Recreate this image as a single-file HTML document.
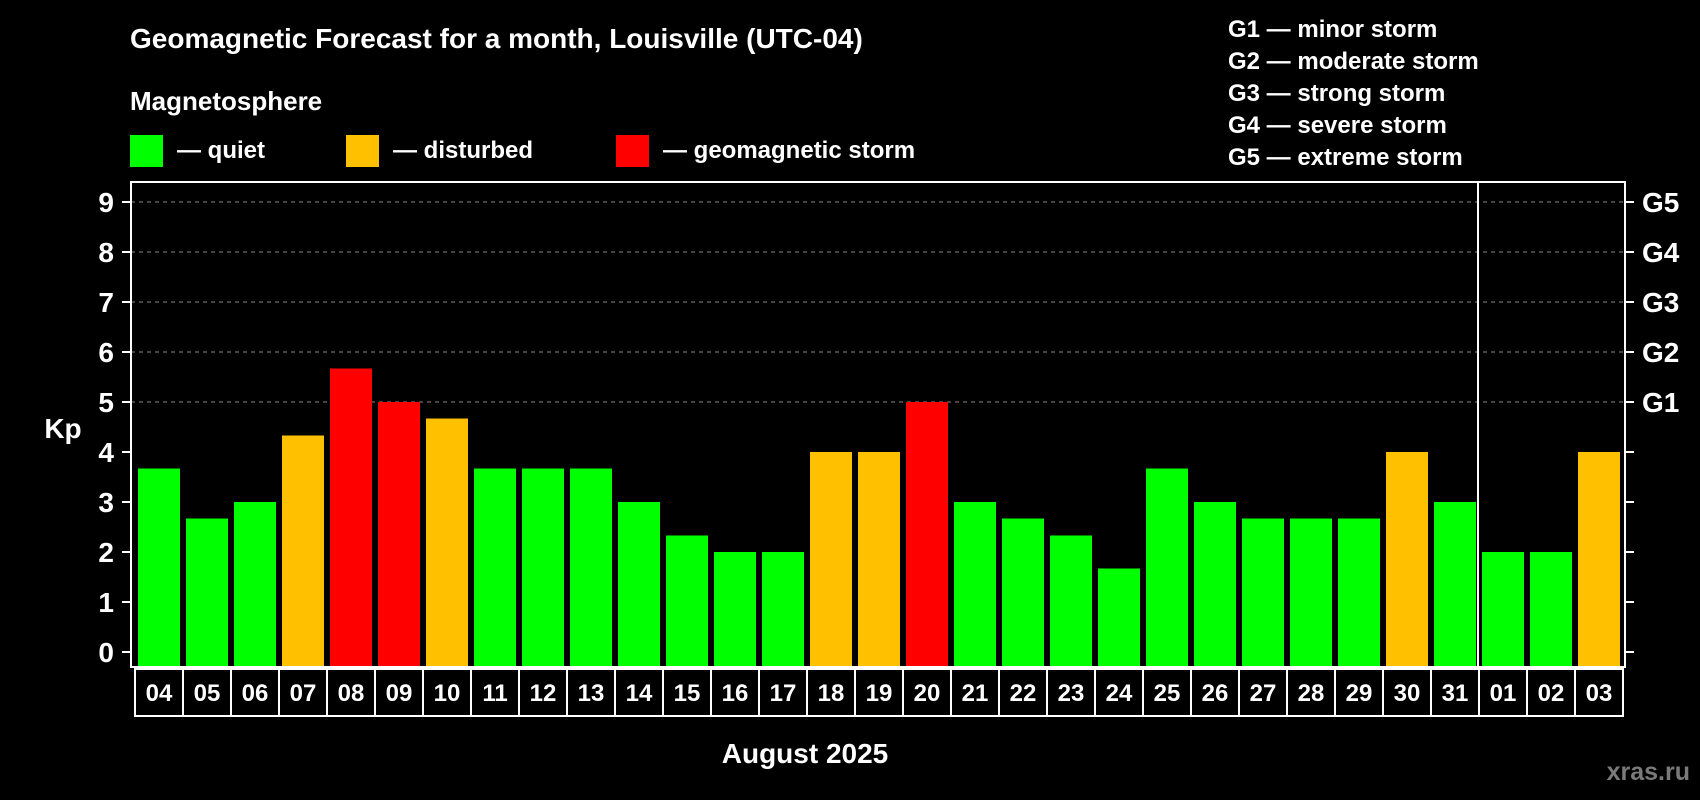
<!DOCTYPE html>
<html><head><meta charset="utf-8"><style>
html,body{margin:0;padding:0;background:#000;}
svg{display:block;font-family:"Liberation Sans",sans-serif;font-weight:bold;}
</style></head><body>
<svg id="chart" width="1700" height="800" viewBox="0 0 1700 800">
<rect width="1700" height="800" fill="#000"/>
<text x="130" y="48" font-size="28" fill="#fff">Geomagnetic Forecast for a month, Louisville (UTC-04)</text>
<text x="130" y="110" font-size="26" fill="#fff">Magnetosphere</text>
<g><rect x="130" y="135" width="33" height="32" fill="#00ff00"/><text x="177" y="158" font-size="24" fill="#fff">— quiet</text></g>
<g><rect x="346" y="135" width="33" height="32" fill="#ffc000"/><text x="393" y="158" font-size="24" fill="#fff">— disturbed</text></g>
<g><rect x="616" y="135" width="33" height="32" fill="#ff0000"/><text x="663" y="158" font-size="24" fill="#fff">— geomagnetic storm</text></g>
<g font-size="24" fill="#fff">
<text x="1228" y="37">G1 — minor storm</text>
<text x="1228" y="69">G2 — moderate storm</text>
<text x="1228" y="101">G3 — strong storm</text>
<text x="1228" y="133">G4 — severe storm</text>
<text x="1228" y="165">G5 — extreme storm</text>
</g>
<g id="grid"></g>
<g id="bars"></g>
<g id="axes"></g>
<text x="63" y="438" font-size="28" fill="#fff" text-anchor="middle">Kp</text>
<text x="805" y="763" font-size="28" fill="#fff" text-anchor="middle">August 2025</text>
<text x="1690" y="780" font-size="25" fill="#7a7a7a" text-anchor="end">xras.ru</text>
</svg>
<script>
const days = ["04","05","06","07","08","09","10","11","12","13","14","15","16","17","18","19","20","21","22","23","24","25","26","27","28","29","30","31","01","02","03"];
const kpValues = [3.67,2.67,3,4.33,5.67,5,4.67,3.67,3.67,3.67,3,2.33,2,2,4,4,5,3,2.67,2.33,1.67,3.67,3,2.67,2.67,2.67,4,3,2,2,4];
const yTicks = [0,1,2,3,4,5,6,7,8,9];
const gLabels = ["G1","G2","G3","G4","G5"];
const gLevels = [5,6,7,8,9];
const monthBreakIndex = 28;

const NS = "http://www.w3.org/2000/svg";
const L = 131, R = 1625, T = 182, B = 667;
const y0 = 652, unit = 50;
const x0 = 138, pitch = 48, bw = 42;
function yScale(v){ return y0 - v*unit; }
function xScale(i){ return x0 + i*pitch; }
function mk(tag, attrs, parent){ const e=document.createElementNS(NS,tag); for(const k in attrs) e.setAttribute(k,attrs[k]); parent.appendChild(e); return e; }
const grid=document.getElementById('grid'), bars=document.getElementById('bars'), axes=document.getElementById('axes');

gLevels.forEach(v=>{
  const l=mk('line',{x1:L,x2:R,y1:yScale(v),y2:yScale(v),stroke:'#888','stroke-width':1,'stroke-dasharray':'4,4'},grid);
  
  
});
kpValues.forEach((v,i)=>{
  const c = v>=5 ? '#ff0000' : (v>=4 ? '#ffc000' : '#00ff00');
  const r=mk('rect',{x:xScale(i),y:yScale(v),width:bw,height:B-yScale(v),fill:c},bars);
  
  
});
const frame=mk('rect',{x:L,y:T,width:R-L,height:B-T,fill:'none',stroke:'#fff','stroke-width':2},axes);


const div=mk('line',{x1:xScale(monthBreakIndex)-4,x2:xScale(monthBreakIndex)-4,y1:T,y2:B,stroke:'#fff','stroke-width':2},axes);


yTicks.forEach(v=>{
  mk('line',{x1:L-9,x2:L,y1:yScale(v),y2:yScale(v),stroke:'#fff','stroke-width':2},axes);
  mk('line',{x1:R,x2:R+9,y1:yScale(v),y2:yScale(v),stroke:'#fff','stroke-width':2},axes);
  const t=mk('text',{x:114,y:yScale(v)+10,'font-size':28,fill:'#fff','text-anchor':'end'},axes);
  t.textContent=v;
  
  
});
gLabels.forEach((g,i)=>{
  const t=mk('text',{x:1642,y:yScale(gLevels[i])+10,'font-size':28,fill:'#fff'},axes);
  t.textContent=g;
  
  
});
days.forEach((d,i)=>{
  const bx = xScale(i)-3;
  const b=mk('rect',{x:bx,y:669,width:pitch,height:47,fill:'#000',stroke:'#fff','stroke-width':2},axes);
  
  
  const t=mk('text',{x:bx+pitch/2,y:701,'font-size':24,fill:'#fff','text-anchor':'middle'},axes);
  t.textContent=d;
  
  
});
</script>
</body></html>
